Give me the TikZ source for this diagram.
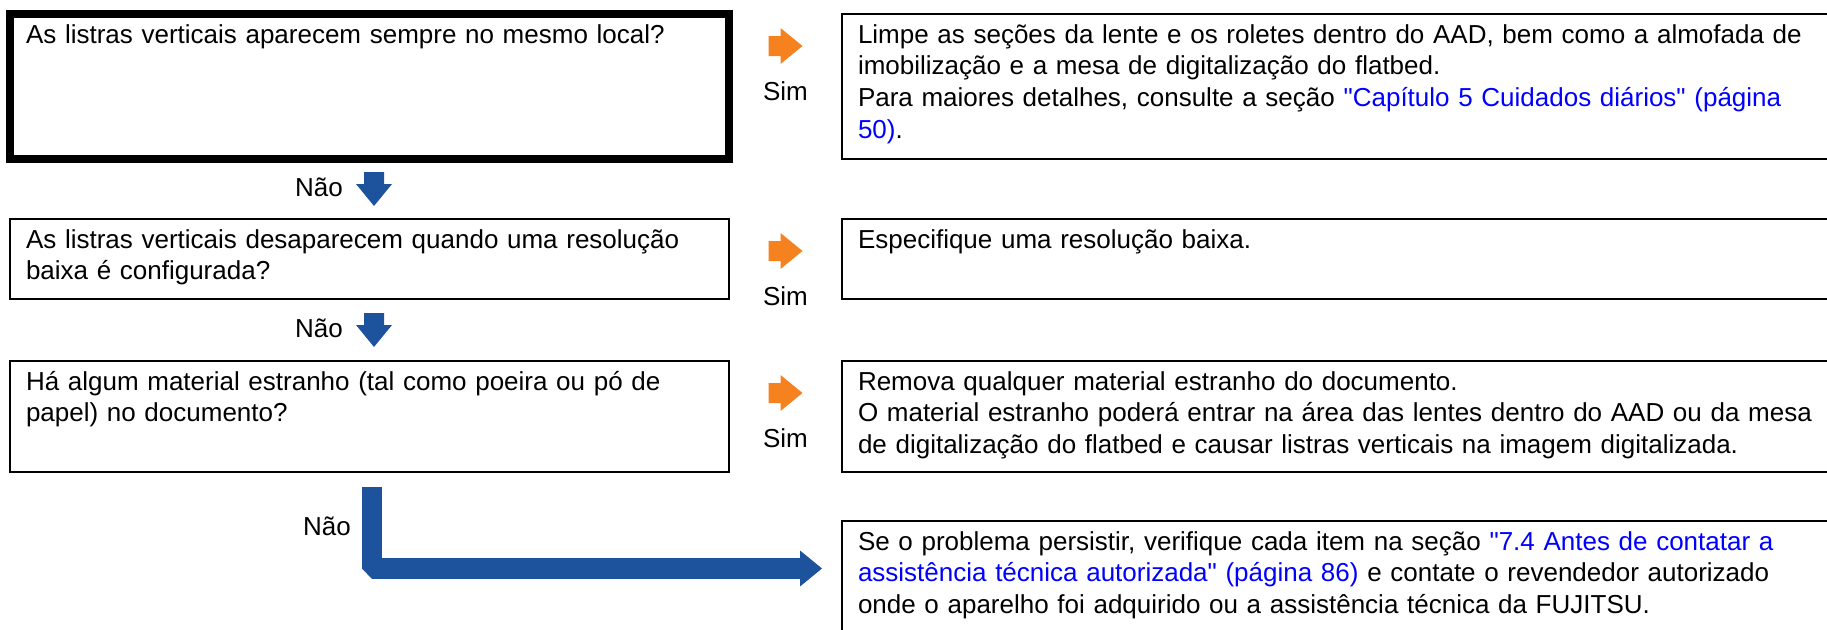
\documentclass[tikz,border=0pt]{standalone}
\usepackage{fontspec}
\setmainfont{Liberation Sans}
\usepackage{xcolor}
\usetikzlibrary{positioning,calc}

\definecolor{simorange}{HTML}{F5821F}
\definecolor{naoblue}{HTML}{1D529C}
\definecolor{linkblue}{HTML}{0000FF}
\newcommand{\lnk}[1]{\textcolor{linkblue}{#1}}
\newcommand{\qt}{\textquotedbl}

\begin{document}
\begin{tikzpicture}[x=1pt,y=-1pt,
  box/.style={draw,line width=2.5pt,anchor=north west,align=left,outer sep=0pt,
    inner xsep=16pt,inner ysep=0pt,text height=29pt,font=\fontsize{26}{31.7}\selectfont},
  qbox/.style={box,text width=687pt},
  abox/.style={box,text width=1068pt},
  lbl/.style={inner sep=0pt,font=\fontsize{26}{31.7}\selectfont},
  naoline/.style={draw=naoblue,line width=20.5pt,line join=bevel},
  blockarrow/.pic={\fill[pic actions] (-17,-10) -- (-5,-10) -- (-5,-18) -- (17,0)
    -- (-5,18) -- (-5,10) -- (-17,10) -- cycle;},
  headtip/.pic={\fill[pic actions] (0,0) -- (-22,-18) -- (-22,18) -- cycle;}]
\useasboundingbox (0,0) rectangle (1827,629);
\clip (0,0) rectangle (1827,629);
% questions on the left, answers on the right
\node[qbox,line width=8.5pt,text depth=116pt] (q1) at (10,14) {As listras verticais aparecem sempre no mesmo local?};
\node[abox,text depth=116pt,right=113pt of q1.north east,anchor=north west] (a1) {Limpe as seções da lente e os roletes dentro do AAD, bem como a almofada de\\imobilização e a mesa de digitalização do flatbed.\\Para maiores detalhes, consulte a seção \lnk{\qt Capítulo 5 Cuidados diários\qt{} (página}\\\lnk{50)}.};
\node[qbox,text depth=51pt,below=60pt of q1.south west,anchor=north west] (q2) {As listras verticais desaparecem quando uma resolução\\baixa é configurada?};
\node[abox,text depth=51pt,right=113pt of q2.north east,anchor=north west] (a2) {Especifique uma resolução baixa.};
\node[qbox,text depth=82pt,below=62pt of q2.south west,anchor=north west] (q3) {Há algum material estranho (tal como poeira ou pó de\\papel) no documento?};
\node[abox,text depth=82pt,right=113pt of q3.north east,anchor=north west] (a3) {Remova qualquer material estranho do documento.\\O material estranho poderá entrar na área das lentes dentro do AAD ou da mesa\\de digitalização do flatbed e causar listras verticais na imagem digitalizada.};
\node[abox,text depth=140pt,below=49pt of a3.south west,anchor=north west] (a4) {Se o problema persistir, verifique cada item na seção \lnk{\qt 7.4 Antes de contatar a}\\\lnk{assistência técnica autorizada\qt{} (página 86)} e contate o revendedor autorizado\\onde o aparelho foi adquirido ou a assistência técnica da FUJITSU.};
% Sim arrows
\coordinate (s1) at ($(q1.north east)!.5!(a1.north west)+(0,32)$);
\coordinate (s2) at ($(q2.north east)!.5!(a2.north west)+(0,32)$);
\coordinate (s3) at ($(q3.north east)!.5!(a3.north west)+(0,32)$);
\pic[fill=simorange] at (s1) {blockarrow};
\pic[fill=simorange] at (s2) {blockarrow};
\pic[fill=simorange] at (s3) {blockarrow};
\node[lbl,anchor=base] (sim1) at ($(s1)+(0,54)$) {Sim};
\node[lbl,anchor=base] (sim2) at ($(s2)+(0,54)$) {Sim};
\node[lbl,anchor=base] (sim3) at ($(s3)+(0,54)$) {Sim};
% Nao arrows
\coordinate (n1) at ($(q1.south west)!.5!(q2.north west)+(364,0)$);
\coordinate (n2) at ($(q2.south west)!.5!(q3.north west)+(364,0)$);
\pic[fill=naoblue,rotate=-90] at (n1) {blockarrow};
\pic[fill=naoblue,rotate=-90] at (n2) {blockarrow};
\node[lbl,anchor=base east] (nao1) at ($(n1)+(-31,7)$) {Não};
\node[lbl,anchor=base east] (nao2) at ($(n2)+(-31,7)$) {Não};
\coordinate (l3) at ($(q3.south west)+(362,15)$);
\coordinate (t4) at ($(a4.north west)+(-20,47.5)$);
\draw[naoline] (l3) |- ($(t4)+(-21,0)$);
\pic[fill=naoblue] at (t4) {headtip};
\node[lbl,anchor=base east] (nao3) at ($(l3)+(-21,48)$) {Não};
\end{tikzpicture}
\end{document}
